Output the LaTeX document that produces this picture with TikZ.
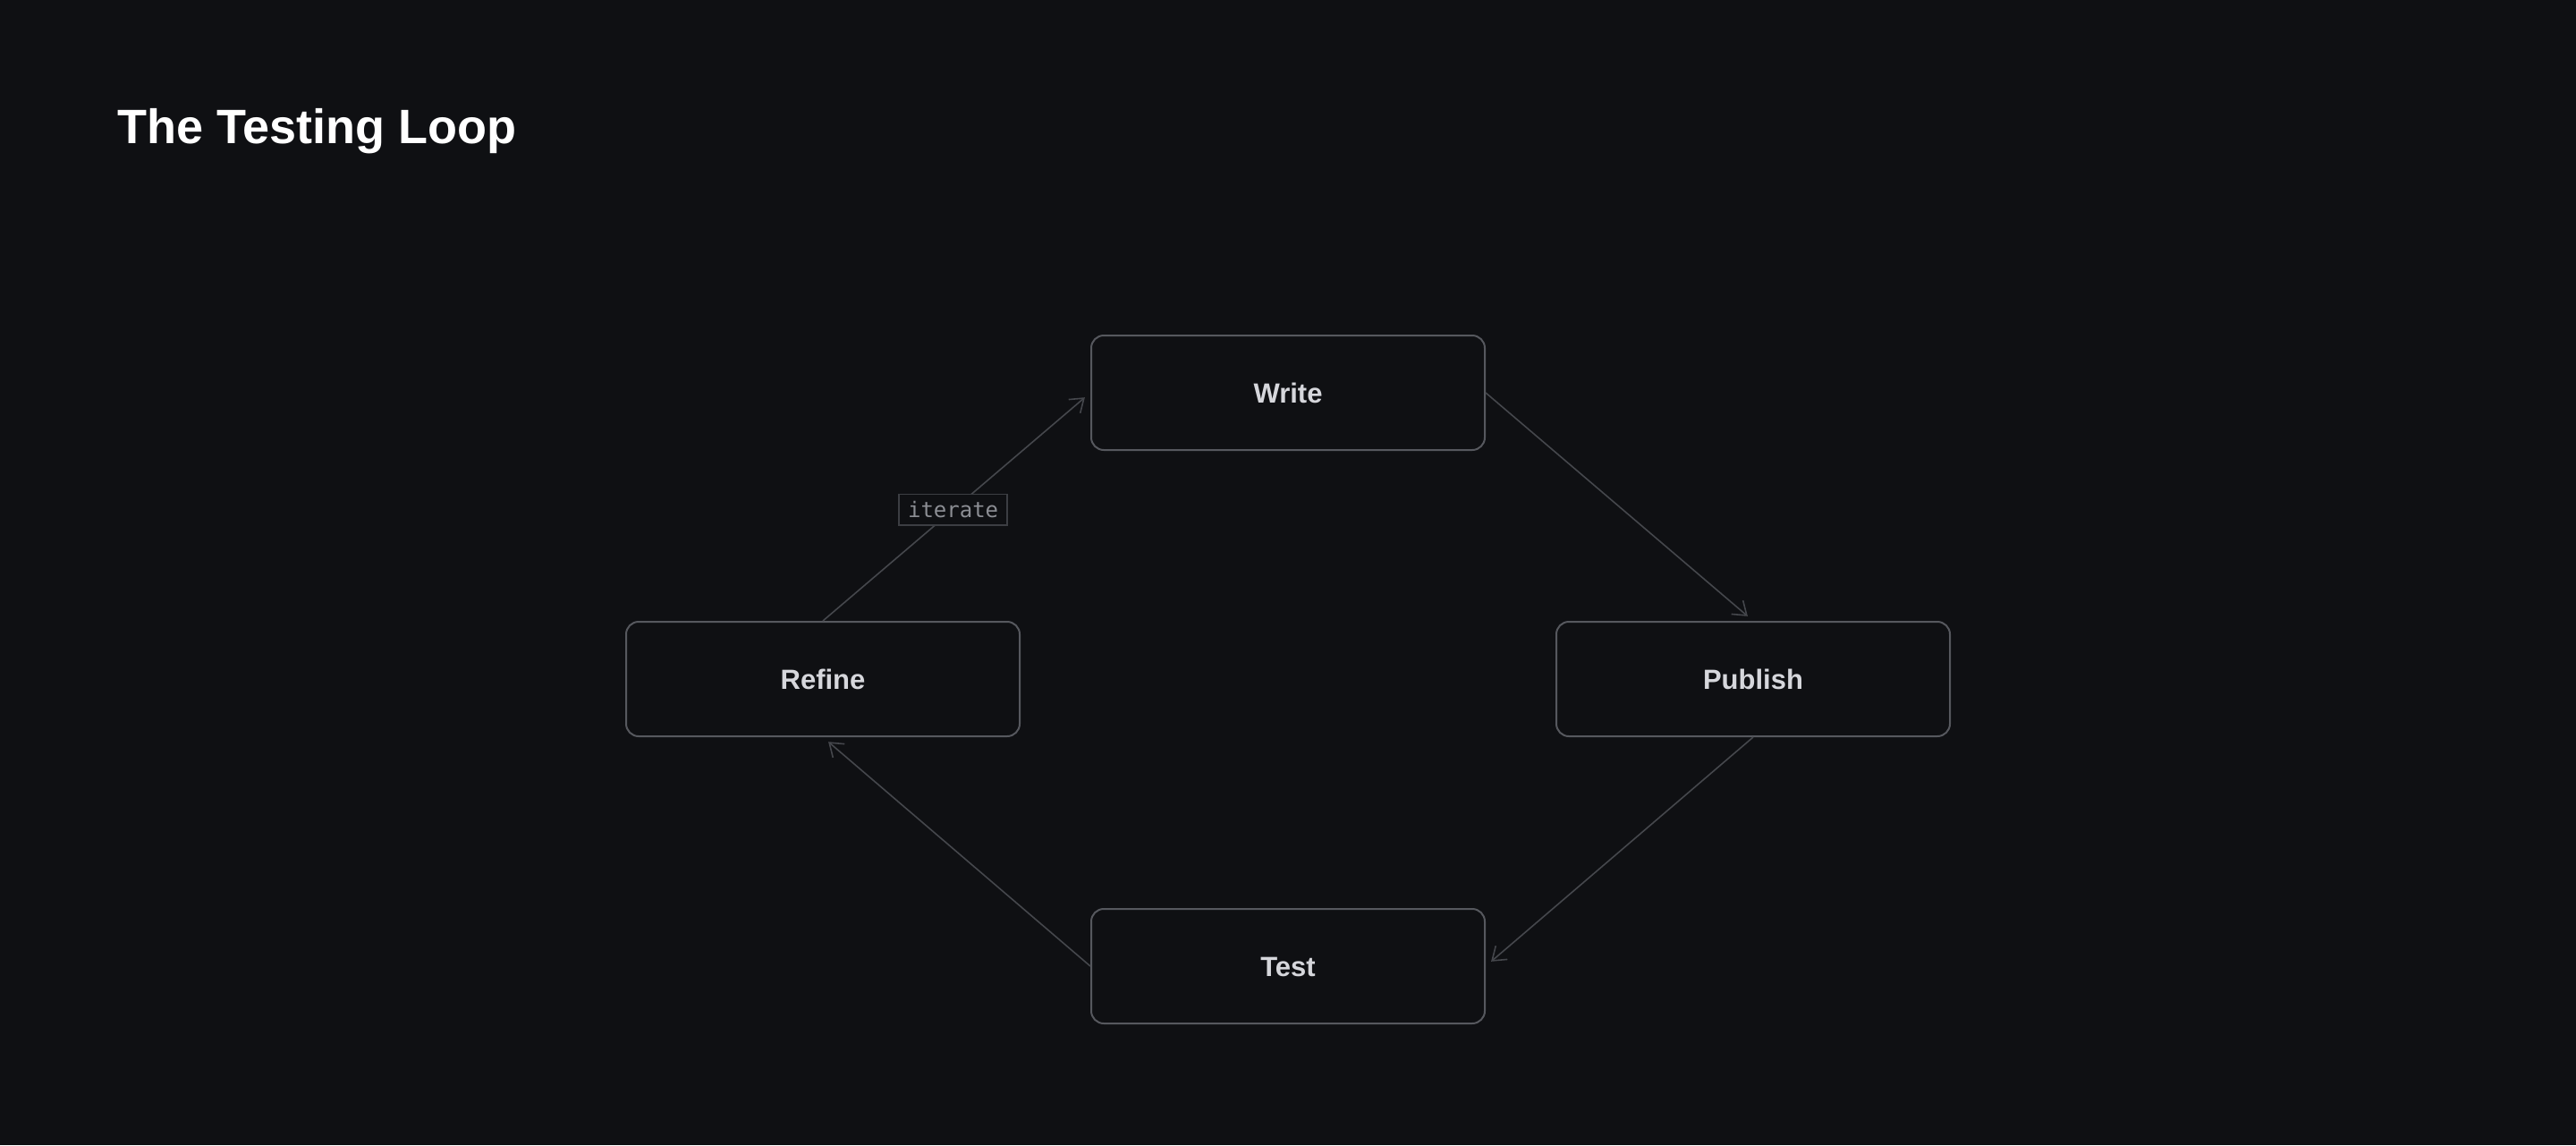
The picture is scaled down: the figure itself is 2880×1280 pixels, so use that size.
\documentclass[tikz,border=0pt]{standalone}
\usepackage{fontspec}
\setmainfont{Liberation Sans}
\newfontfamily\monofont{DejaVu Sans Mono}
\usetikzlibrary{arrows.meta}
\definecolor{bgc}{HTML}{0F1013}
\definecolor{boxborder}{HTML}{56585E}
\definecolor{arrowc}{HTML}{45474C}
\definecolor{boxtext}{HTML}{D6D7DC}
\definecolor{labtext}{HTML}{8C8E94}
\definecolor{labborder}{HTML}{3C3E43}
\tikzset{
  stepbox/.style={draw=boxborder, line width=2pt, fill=bgc, rounded corners=14pt,
    minimum width=440pt, minimum height=128pt, inner sep=0pt,
    text=boxtext, font=\fontsize{31}{34}\selectfont\bfseries,
    text height=22pt, text depth=0pt},
  flow/.style={draw=arrowc, line width=1.6pt, shorten >=8pt,
    -{Straight Barb[length=14pt,width=20pt,line width=1.6pt]}},
  lab/.style={draw=labborder, line width=1.5pt, fill=bgc, text=labtext,
    font=\fontsize{24}{28}\monofont, inner xsep=10pt, inner ysep=8pt}
}
\begin{document}
\begin{tikzpicture}[x=1pt,y=-1pt]
\fill[bgc] (0,0) rectangle (2880,1280);
\useasboundingbox (0,0) rectangle (2880,1280);
\node[anchor=base west, text=white, font=\fontsize{54}{60}\selectfont\bfseries] (title) at (128,160) {The Testing Loop};
\node[stepbox] (write) at (1440,439) {Write};
\node[stepbox] (refine) at (920,759) {Refine};
\node[stepbox] (publish) at (1960,759) {Publish};
\node[stepbox] (test) at (1440,1080) {Test};
\draw[flow] (write.east) -- (publish.north);
\draw[flow] (publish.south) -- (test.east);
\draw[flow] (test.west) -- (refine.south);
\draw[flow] (refine.north) -- node[lab, pos=0.487] (iter) {iterate} (write.west);
\end{tikzpicture}
\end{document}
